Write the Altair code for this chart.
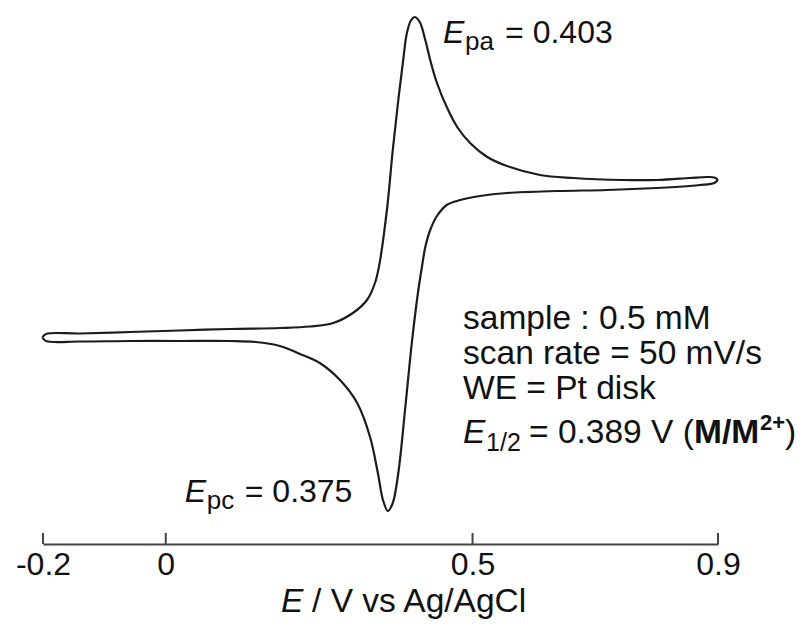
import altair as alt
import pandas as pd

# ---- traced cyclic voltammogram (potential E in V vs Ag/AgCl, current in arbitrary units) ----
E_forward = [-0.201, -0.195, -0.140, -0.058, 0.023, 0.105, 0.186, 0.235, 0.273, 0.305,
             0.328, 0.341, 0.348, 0.361, 0.370, 0.379, 0.387, 0.393, 0.400, 0.406,
             0.414, 0.423, 0.431, 0.442, 0.458, 0.475, 0.496, 0.524, 0.556, 0.610,
             0.664, 0.745, 0.801, 0.854, 0.882, 0.894, 0.899]
i_forward = [0.13, 0.20, 0.21, 0.24, 0.27, 0.30, 0.32, 0.35, 0.42, 0.62,
             0.88, 1.22, 1.58, 2.74, 3.88, 4.88, 5.68, 6.22, 6.48, 6.54,
             6.44, 6.08, 5.68, 5.22, 4.74, 4.34, 4.02, 3.74, 3.56, 3.38,
             3.32, 3.28, 3.28, 3.32, 3.34, 3.33, 3.28]
E_reverse = [0.894, 0.871, 0.854, 0.801, 0.719, 0.638, 0.556, 0.512, 0.480, 0.458,
             0.442, 0.431, 0.423, 0.418, 0.411, 0.401, 0.390, 0.379, 0.370, 0.362,
             0.354, 0.346, 0.333, 0.312, 0.284, 0.251, 0.219, 0.186, 0.146, 0.105,
             0.023, -0.058, -0.140, -0.195, -0.201]
i_reverse = [3.22, 3.18, 3.16, 3.12, 3.08, 3.06, 3.02, 2.96, 2.88, 2.78,
             2.56, 2.28, 1.94, 1.58, 1.02, 0.02, -1.32, -2.58, -3.18, -3.34,
             -3.12, -2.60, -1.86, -1.18, -0.72, -0.38, -0.20, -0.04, 0.04, 0.06,
             0.06, 0.06, 0.05, 0.06, 0.13]

tick_values = [-0.2, 0, 0.5, 0.9]
x_domain = [-0.2, 0.9]
y_domain = [-4.0, 6.72]

E_pa = 0.403
E_pc = 0.375
E_half = 0.389
sample_conc = "0.5 mM"
scan_rate = "50 mV/s"
electrode = "Pt disk"

FONT = "Liberation Sans"
INK = "#111111"
AXIS = "#444444"

E_all = E_forward + E_reverse
i_all = i_forward + i_reverse
cv = pd.DataFrame({"E": E_all, "i": i_all, "k": list(range(len(E_all)))})

xs = alt.Scale(domain=x_domain, nice=False, zero=False)
ys = alt.Scale(domain=y_domain, nice=False, zero=False)

curve = alt.Chart(cv).mark_line(
    color="#1c1c1c", strokeWidth=2.2, interpolate="catmull-rom"
).encode(
    x=alt.X("E:Q", scale=xs, axis=alt.Axis(
        values=tick_values, title=None, grid=False, ticks=False, tickSize=0,
        domainColor=AXIS, domainWidth=2, labelFontSize=32, labelFont=FONT,
        labelColor=INK, labelPadding=5, labelFlush=False, labelOverlap=False,
        labelExpr="toString(datum.value)")),
    y=alt.Y("i:Q", scale=ys, axis=None),
    order="k:Q",
)

tick_df = pd.DataFrame({
    "E": tick_values,
    "lo": [y_domain[0]] * len(tick_values),
    "hi": [y_domain[0] + 0.22] * len(tick_values),
})
ticks = alt.Chart(tick_df).mark_rule(color=AXIS, strokeWidth=2).encode(
    x=alt.X("E:Q", scale=xs),
    y=alt.Y("lo:Q", scale=ys, axis=None),
    y2="hi:Q",
)


def txt(s, E, i, dx=0, dy=0, size=32, style="normal", weight="normal"):
    return alt.Chart(pd.DataFrame({"E": [E], "i": [i], "t": [s]})).mark_text(
        align="left", baseline="alphabetic", dx=dx, dy=dy, fontSize=size,
        fontStyle=style, fontWeight=weight, font=FONT, color=INK
    ).encode(
        x=alt.X("E:Q", scale=xs),
        y=alt.Y("i:Q", scale=ys, axis=None),
        text="t:N",
    )


labels = [
    # E_pa annotation
    txt("E", 0.452, 6.02, style="italic"),
    txt("pa", 0.452, 6.02, dx=22, dy=7, size=26),
    txt(f"= {E_pa:.3f}", 0.452, 6.02, dx=62),
    # E_pc annotation
    txt("E", 0.031, -3.16, style="italic"),
    txt("pc", 0.031, -3.16, dx=22, dy=7, size=26),
    txt(f"= {E_pc:.3f}", 0.031, -3.16, dx=60),
    # conditions block
    txt(f"sample : {sample_conc}", 0.4845, 0.30, size=33.5),
    txt(f"scan rate = {scan_rate}", 0.4845, -0.40, size=33.5),
    txt(f"WE = {electrode}", 0.4845, -1.10, size=33.5),
    txt("E", 0.4845, -1.98, size=33.5, style="italic"),
    txt("1/2", 0.4845, -1.98, dx=23, dy=8, size=25),
    txt(f"= {E_half:.3f} V (", 0.4845, -1.98, dx=66, size=33.5),
    txt("M/M", 0.4845, -1.98, dx=231, size=33.5, weight="bold"),
    txt("2+", 0.4845, -1.98, dx=297, dy=-13, size=22, weight="bold"),
    txt(")", 0.4845, -1.98, dx=322, size=33.5),
    # axis title
    txt("E", 0.188, -5.36, size=33.5, style="italic"),
    txt("/ V vs Ag/AgCl", 0.188, -5.36, dx=31, size=33.5),
]

chart = alt.layer(curve, ticks, *labels).properties(
    width=675, height=536,
    autosize=alt.AutoSizeParams(type="none"),
    padding={"left": 35, "top": 0, "right": 80, "bottom": 75},
    background="white",
).configure_view(strokeWidth=0)

chart.save("out.html", embed_options={"renderer": "svg", "actions": False})
